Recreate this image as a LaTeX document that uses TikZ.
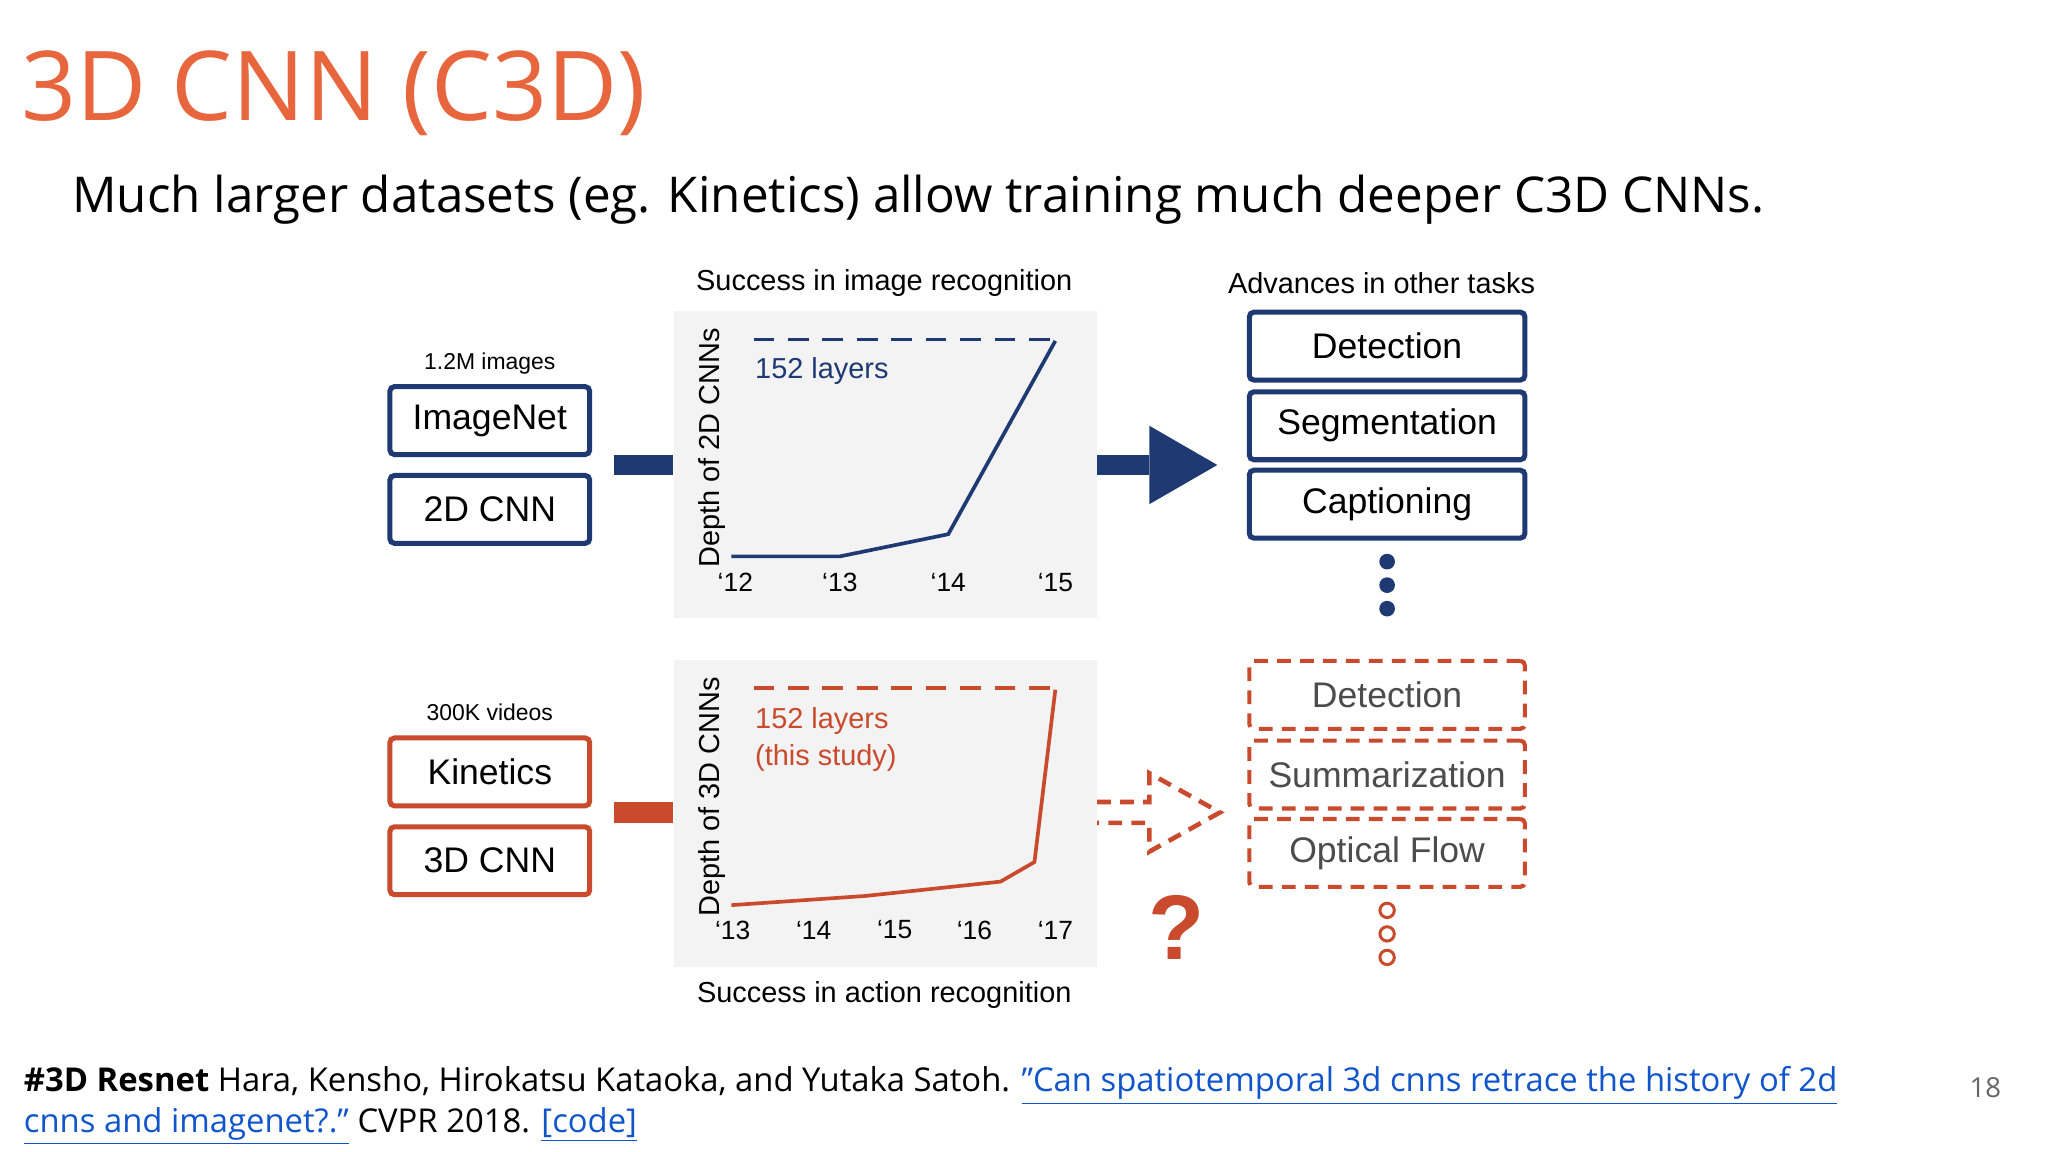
\documentclass[tikz,border=0pt]{standalone}
\usepackage{fontspec}
\setmainfont{Open Sans}
\newfontfamily\chartfont{Liberation Sans}
\usetikzlibrary{calc}
\definecolor{navy}{HTML}{1F3A73}
\definecolor{rust}{HTML}{C94A2C}
\definecolor{ttl}{HTML}{E8663D}
\definecolor{lnk}{HTML}{1155CC}
\definecolor{panel}{HTML}{F3F3F3}
\begin{document}
\begin{tikzpicture}[x=0.02cm,y=-0.02cm,
  bx/.style={draw,line width=2.2pt,rounded corners=2pt,font=\chartfont\fontsize{15.5}{18}\selectfont},
  lbl/.style={font=\chartfont\fontsize{12.6}{14}\selectfont},
  sm/.style={font=\chartfont\fontsize{10}{12}\selectfont},
  tick/.style={font=\chartfont\fontsize{11.5}{14}\selectfont}]
\useasboundingbox[fill=white] (0,0) rectangle (1568,882);
\node[anchor=base west,inner sep=0,text=ttl,font=\fontsize{42}{46}\selectfont] (title) at (16,92) {3D CNN (C3D)};
\node[anchor=base west,inner sep=0,font=\fontsize{21.5}{26}\selectfont] (sub) at (55,163) {Much larger datasets (eg. Kinetics) allow training much deeper C3D CNNs.};
% top panel
\fill[panel] (516,238) rectangle (840,473);
\node[lbl] (t1) at (677,217) {Success in image recognition};
\node[lbl,rotate=90] (ax1) at (545,343) {Depth of 2D CNNs};
\draw[navy,line width=1.6pt,dash pattern=on 9pt off 6pt] (577,260) -- (808,260);
\draw[navy,line width=1.6pt] (560,426) -- (643,426) -- (726,409) -- (808,261);
\node[lbl,text=navy,anchor=west] (l1) at (572,284) {152 layers};
\foreach \x/\t in {563/‘12,643/‘13,726/‘14,808/‘15} \node[tick] at (\x,446) {\t};
\node[sm] (n1) at (375,278) {1.2M images};
\node[bx,navy,text=black,minimum width=153*0.02cm,minimum height=52*0.02cm] (imn) at (375,322) {ImageNet};
\node[bx,navy,text=black,minimum width=153*0.02cm,minimum height=52*0.02cm] (c2) at (375,390) {2D CNN};
\fill[navy] (470,348) rectangle (515,364);
\fill[navy] (840,348) rectangle (880,364);
\fill[navy] (880,326) -- (932,356) -- (880,386) -- cycle;
\begin{scope}
\clip (900,190) rectangle (1177,240);
\node[lbl,anchor=west] (adv) at (934,217) {Advances in other tasks};
\end{scope}
\foreach \n/\y/\t in {d1/265/Detection,s1/326/Segmentation,cp/386/Captioning}
  \node[bx,navy,text=black,minimum width=211*0.02cm,minimum height=52*0.02cm] (\n) at (1062,\y) {\t};
\foreach \y in {430,448,466} \fill[navy] (1062,\y) circle (6);
% bottom panel
\fill[panel] (516,505) rectangle (840,740);
\node[lbl] (t2) at (677,762) {Success in action recognition};
\node[lbl,rotate=90] (ax2) at (545,610) {Depth of 3D CNNs};
\draw[rust,line width=1.6pt,dash pattern=on 9pt off 6pt] (577,527) -- (808,527);
\draw[rust,line width=1.6pt] (560,693) -- (662,686) -- (766,675) -- (792,660) -- (808,528);
\node[lbl,text=rust,anchor=west] (l2) at (572,552) {152 layers};
\node[lbl,text=rust,anchor=west] (l3) at (572,580) {(this study)};
\foreach \x/\t in {561/‘13,623/‘14,685/‘15,746/‘16,808/‘17} \node[tick] at (\x,712) {\t};
\node[sm] (n2) at (375,545) {300K videos};
\node[bx,rust,text=black,minimum width=153*0.02cm,minimum height=52*0.02cm] (kin) at (375,591) {Kinetics};
\node[bx,rust,text=black,minimum width=153*0.02cm,minimum height=52*0.02cm] (c3) at (375,659) {3D CNN};
\fill[rust] (470,614) rectangle (515,630);
\draw[rust,line width=2pt,dash pattern=on 6pt off 4pt] (840,614) -- (880,614) -- (880,592) -- (934,622) -- (880,652) -- (880,630) -- (840,630);
\node[text=rust,font=\chartfont\bfseries\fontsize{40}{44}\selectfont] (q) at (901,710) {?};
\foreach \n/\y/\t in {d2/532/Detection,s2/593/Summarization,of/653/Optical Flow}
  \node[bx,rust,text=black!70,line width=1.8pt,dash pattern=on 6pt off 4pt,minimum width=211*0.02cm,minimum height=52*0.02cm] (\n) at (1062,\y) {\t};
\foreach \y in {697,715,733} \draw[rust,line width=1.3pt] (1062,\y) circle (5.5);
% footer
\node[anchor=base west,inner sep=0,font=\fontsize{14.3}{17}\selectfont] (f1) at (18,836) {\textbf{\#3D Resnet} Hara, Kensho, Hirokatsu Kataoka, and Yutaka Satoh. \textcolor{lnk}{\underline{\char"22 Can spatiotemporal 3d cnns retrace the history of 2d}}};
\node[anchor=base west,inner sep=0,font=\fontsize{14.3}{17}\selectfont] (f2) at (18,867) {\textcolor{lnk}{\underline{cnns and imagenet?.\char"22}} CVPR 2018. \textcolor{lnk}{\underline{[code]}}};
\node[anchor=base,inner sep=0,text=black!60,font=\fontsize{12}{14}\selectfont] (pg) at (1520,840) {18};
\end{tikzpicture}
\end{document}
